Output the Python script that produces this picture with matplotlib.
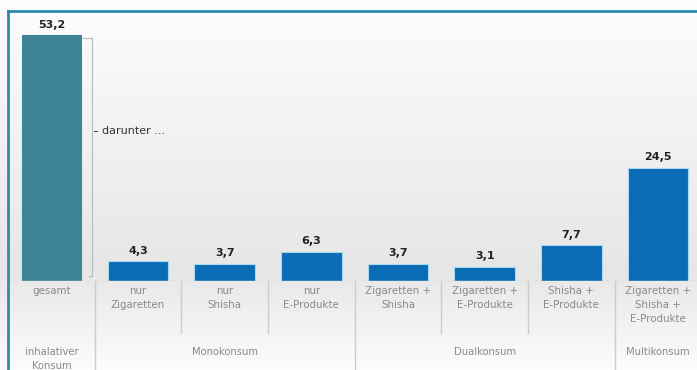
import numpy as np
import matplotlib.pyplot as plt
from matplotlib.lines import Line2D

categories = ["gesamt", "nur\nZigaretten", "nur\nShisha", "nur\nE-Produkte",
              "Zigaretten +\nShisha", "Zigaretten +\nE-Produkte", "Shisha +\nE-Produkte",
              "Zigaretten +\nShisha +\nE-Produkte"]
values = [53.2, 4.3, 3.7, 6.3, 3.7, 3.1, 7.7, 24.5]
groups = ["inhalativer\nKonsum", "Monokonsum", "Dualkonsum", "Multikonsum"]
group_spans = [(0, 0), (1, 3), (4, 6), (7, 7)]

W, H = 697, 370
fig = plt.figure(figsize=(W / 100, H / 100), dpi=100)
fig.patch.set_facecolor("#f4f4f4")

# soft background gradient over the whole figure
bg = fig.add_axes([0, 0, 1, 1], zorder=-10)
grad = np.concatenate([np.linspace(0.99, 0.90, 270), np.linspace(0.90, 0.985, 100)])
bg.imshow(np.tile(grad[:, None], (1, 10)), cmap="gray", vmin=0, vmax=1,
          aspect="auto", extent=[0, 1, 0, 1])
bg.axis("off")

base_px, top_px, left_px = 281, 11, 8
ax = fig.add_axes([left_px / W, (H - base_px) / H, 1 - left_px / W, (base_px - top_px) / H])
ax.patch.set_alpha(0)
x = np.arange(len(values))
colors = ["#3f8597"] + ["#0a6cb4"] * (len(values) - 1)
edges = ["#3f8597"] + ["#a7d8f0"] * (len(values) - 1)
widths = [0.68] + [0.7] * (len(values) - 1)
bars = ax.bar(x, values, width=widths, color=colors, edgecolor=edges, linewidth=0.8)
for b, v in zip(bars, values):
    ax.annotate(f"{v:.1f}".replace(".", ","), (b.get_x() + b.get_width() / 2, v),
                xytext=(0, 4), textcoords="offset points", ha="center", va="bottom",
                fontsize=8, fontweight="bold", color="#222222")
ax.set_xlim(-0.5, 7.45)
ax.set_ylim(0, (base_px - top_px) / 4.62)
ax.set_xticks([])
ax.set_yticks([])
for s in ["right", "bottom", "left"]:
    ax.spines[s].set_visible(False)
ax.spines["top"].set_color("#2a8db0")
ax.spines["top"].set_linewidth(2)
ax.axhline(0, color="#cfcfcf", lw=1)

# "darunter ..." bracket
bc = "#bdbdbd"
ax.plot([0.36, 0.466, 0.466, 0.44], [52.6, 52.6, 1.1, 1.1], color=bc, lw=0.9)
ax.plot([0.49, 0.53], [32.5, 32.5], color="#555555", lw=0.8)
ax.text(0.59, 32.5, "darunter ...", fontsize=8, color="#333333", va="center", ha="left")

# table below the bars
tab = fig.add_axes([left_px / W, 0, 1 - left_px / W, (H - base_px) / H])
tab.patch.set_alpha(0)
tab.set_xlim(-0.5, 7.45)
tab.set_ylim(H - base_px, 0)
tab.axis("off")
lc = "#cccccc"
for gi, (a, b) in enumerate(group_spans):
    if a > 0:
        tab.plot([a - 0.5, a - 0.5], [0, H - base_px], color=lc, lw=1)
    for k in range(a + 1, b + 1):
        tab.plot([k - 0.5, k - 0.5], [0, 52], color=lc, lw=1)
    tab.text((a + b) / 2, 78 if "\n" in groups[gi] else 71, groups[gi], ha="center",
             va="center", fontsize=7.2, color="#8a8a8a", linespacing=1.45)
for i, c in enumerate(categories):
    tab.text(i, 4.5, c, ha="center", va="top", fontsize=7.4, color="#8a8a8a", linespacing=1.5)

fig.add_artist(Line2D([left_px / W, left_px / W], [0, (H - top_px) / H],
                      color="#2a8db0", lw=2, transform=fig.transFigure))

fig.savefig("out.png", dpi=100)
